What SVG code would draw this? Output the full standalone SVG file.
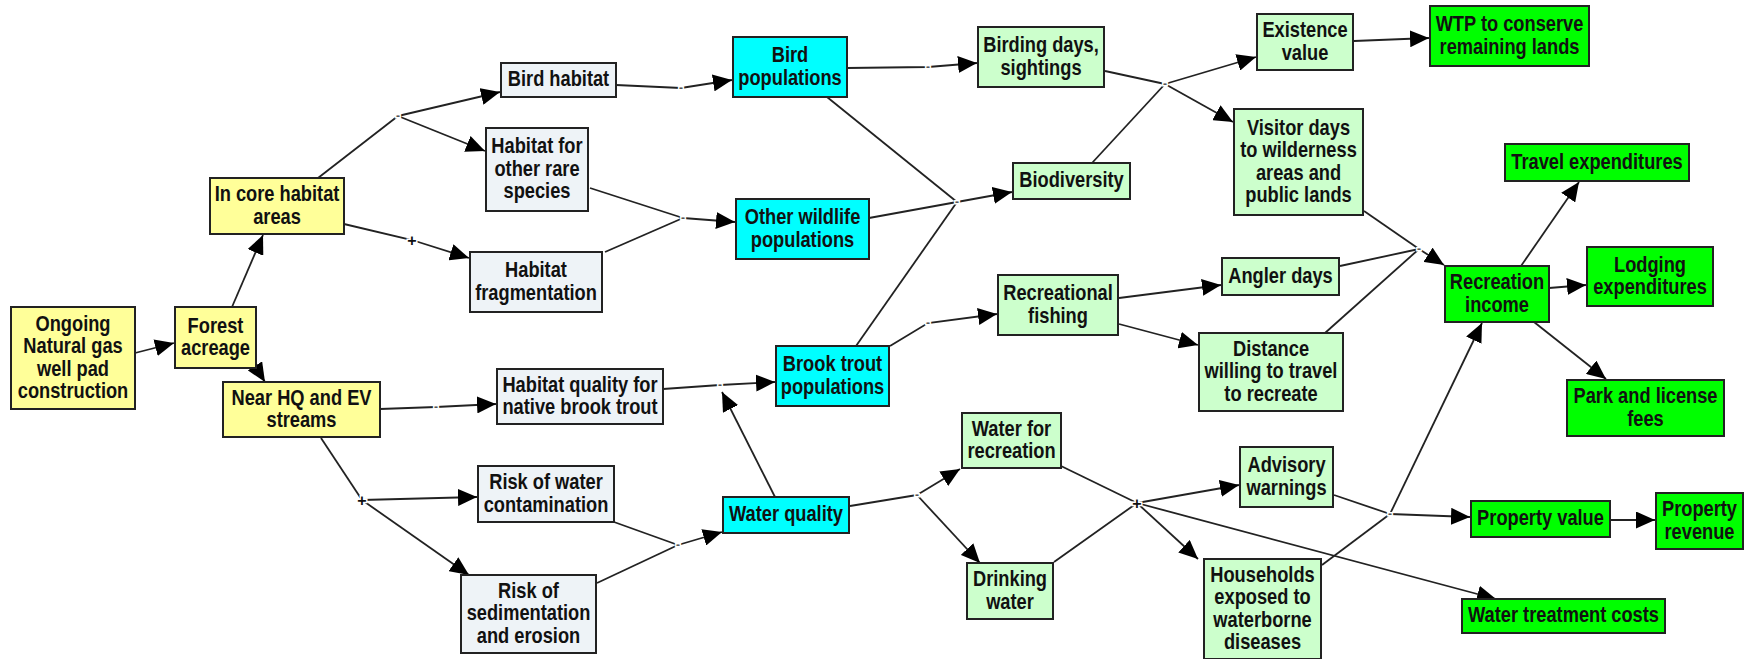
<svg xmlns="http://www.w3.org/2000/svg" width="1747" height="659" viewBox="0 0 1747 659">
<style>
.box{stroke:#222;stroke-width:2}
.y{fill:#FFFF99}.g{fill:#EEF3F7}.c{fill:#00FFFF}.lg{fill:#CCFFCC}.gr{fill:#00FF00}
.t{font-family:"Liberation Sans",Arial,sans-serif;font-weight:bold;font-size:22px;fill:#111;text-anchor:middle}
.e{fill:none;stroke:#222;stroke-width:1.8}
.m{font-family:"Liberation Sans",Arial,sans-serif;font-weight:bold;font-size:12px;fill:#555;text-anchor:middle;stroke:#fff;stroke-width:3;paint-order:stroke}
.p{font-family:"Liberation Sans",Arial,sans-serif;font-weight:bold;font-size:16px;fill:#111;text-anchor:middle;stroke:#fff;stroke-width:3;paint-order:stroke}
</style>
<defs>
<marker id="a" markerUnits="userSpaceOnUse" markerWidth="19" markerHeight="17" refX="19" refY="8.5" orient="auto" viewBox="0 0 19 17">
<path d="M0,0 L19,8.5 L0,17 z" fill="#000"/>
</marker>
</defs>
<rect width="1747" height="659" fill="#fff"/>
<g id="connectors">
<path class="e" d="M135,353 L174,343" marker-end="url(#a)"/>
<path class="e" d="M232,307 L263,235" marker-end="url(#a)"/>
<path class="e" d="M255,366 L265,382" marker-end="url(#a)"/>
<path class="e" d="M318,178 L398,116"/>
<path class="e" d="M398,116 L500,92" marker-end="url(#a)"/>
<path class="e" d="M398,116 L485,151" marker-end="url(#a)"/>
<path class="e" d="M344,224 L412,240 L469,258" marker-end="url(#a)"/>
<path class="e" d="M380,409 L436,407 L496,404" marker-end="url(#a)"/>
<path class="e" d="M321,438 L362,500"/>
<path class="e" d="M362,500 L477,497" marker-end="url(#a)"/>
<path class="e" d="M362,500 L469,575" marker-end="url(#a)"/>
<path class="e" d="M616,85 L681,88 L732,80" marker-end="url(#a)"/>
<path class="e" d="M590,188 L683,218"/>
<path class="e" d="M605,252 L683,218"/>
<path class="e" d="M683,218 L735,222" marker-end="url(#a)"/>
<path class="e" d="M847,68 L928,67 L977,63" marker-end="url(#a)"/>
<path class="e" d="M827,97 L957,202"/>
<path class="e" d="M869,218 L957,202"/>
<path class="e" d="M856,346 L957,202"/>
<path class="e" d="M957,202 L1012,192" marker-end="url(#a)"/>
<path class="e" d="M1105,71 L1165,84"/>
<path class="e" d="M1092,163 L1165,84"/>
<path class="e" d="M1165,84 L1256,57" marker-end="url(#a)"/>
<path class="e" d="M1165,84 L1233,122" marker-end="url(#a)"/>
<path class="e" d="M1354,41 L1429,38" marker-end="url(#a)"/>
<path class="e" d="M1364,211 L1419,249"/>
<path class="e" d="M1340,266 L1419,249"/>
<path class="e" d="M1325,333 L1419,249"/>
<path class="e" d="M1419,249 L1444,265" marker-end="url(#a)"/>
<path class="e" d="M1521,266 L1579,182" marker-end="url(#a)"/>
<path class="e" d="M1549,288 L1586,285" marker-end="url(#a)"/>
<path class="e" d="M1534,322 L1606,379" marker-end="url(#a)"/>
<path class="e" d="M1119,298 L1221,285" marker-end="url(#a)"/>
<path class="e" d="M1119,324 L1198,345" marker-end="url(#a)"/>
<path class="e" d="M890,346 L928,323 L997,314" marker-end="url(#a)"/>
<path class="e" d="M663,389 L720,385 L775,382" marker-end="url(#a)"/>
<path class="e" d="M775,497 L722,392" marker-end="url(#a)"/>
<path class="e" d="M614,522 L678,545"/>
<path class="e" d="M597,583 L678,545"/>
<path class="e" d="M678,545 L722,532" marker-end="url(#a)"/>
<path class="e" d="M850,506 L917,495"/>
<path class="e" d="M917,495 L960,469" marker-end="url(#a)"/>
<path class="e" d="M917,495 L980,563" marker-end="url(#a)"/>
<path class="e" d="M1061,466 L1137,503"/>
<path class="e" d="M1054,562 L1137,503"/>
<path class="e" d="M1137,503 L1239,485" marker-end="url(#a)"/>
<path class="e" d="M1137,503 L1198,559" marker-end="url(#a)"/>
<path class="e" d="M1137,503 L1496,599" marker-end="url(#a)"/>
<path class="e" d="M1334,495 L1390,514"/>
<path class="e" d="M1322,565 L1390,514"/>
<path class="e" d="M1390,514 L1470,517" marker-end="url(#a)"/>
<path class="e" d="M1390,514 L1482,323" marker-end="url(#a)"/>
<path class="e" d="M1610,520 L1655,520" marker-end="url(#a)"/>
<text class="m" x="398" y="120">-</text>
<text class="m" x="681" y="92">-</text>
<text class="m" x="683" y="222">-</text>
<text class="m" x="928" y="71">-</text>
<text class="m" x="957" y="206">-</text>
<text class="m" x="1165" y="88">-</text>
<text class="m" x="1419" y="253">-</text>
<text class="m" x="436" y="411">-</text>
<text class="m" x="720" y="389">-</text>
<text class="m" x="928" y="327">-</text>
<text class="m" x="678" y="549">-</text>
<text class="m" x="917" y="499">-</text>
<text class="m" x="1390" y="518">-</text>
<text class="p" x="412" y="246">+</text>
<text class="p" x="362" y="506">+</text>
<text class="p" x="1137" y="509">+</text>
</g>
<g id="ongoing"><rect class="box y" x="11" y="307" width="124" height="102"/><text class="t" transform="translate(73 0) scale(0.83 1)"><tspan x="0" y="330.75">Ongoing</tspan><tspan x="0" y="353.25">Natural gas</tspan><tspan x="0" y="375.75">well pad</tspan><tspan x="0" y="398.25">construction</tspan></text></g>
<g id="forest"><rect class="box y" x="175" y="307" width="81" height="61"/><text class="t" transform="translate(215.5 0) scale(0.83 1)"><tspan x="0" y="332.75">Forest</tspan><tspan x="0" y="355.25">acreage</tspan></text></g>
<g id="incore"><rect class="box y" x="210" y="178" width="134" height="56"/><text class="t" transform="translate(277 0) scale(0.83 1)"><tspan x="0" y="201.25">In core habitat</tspan><tspan x="0" y="223.75">areas</tspan></text></g>
<g id="nearhq"><rect class="box y" x="223" y="382" width="157" height="55"/><text class="t" transform="translate(301.5 0) scale(0.83 1)"><tspan x="0" y="404.75">Near HQ and EV</tspan><tspan x="0" y="427.25">streams</tspan></text></g>
<g id="birdhab"><rect class="box g" x="501" y="63" width="115" height="34"/><text class="t" transform="translate(558.5 0) scale(0.83 1)"><tspan x="0" y="86.5">Bird habitat</tspan></text></g>
<g id="habother"><rect class="box g" x="486" y="128" width="102" height="83"/><text class="t" transform="translate(537 0) scale(0.83 1)"><tspan x="0" y="153.5">Habitat for</tspan><tspan x="0" y="176">other rare</tspan><tspan x="0" y="198.5">species</tspan></text></g>
<g id="habfrag"><rect class="box g" x="470" y="252" width="132" height="60"/><text class="t" transform="translate(536 0) scale(0.83 1)"><tspan x="0" y="277.25">Habitat</tspan><tspan x="0" y="299.75">fragmentation</tspan></text></g>
<g id="habqual"><rect class="box g" x="497" y="369" width="166" height="55"/><text class="t" transform="translate(580 0) scale(0.83 1)"><tspan x="0" y="391.75">Habitat quality for</tspan><tspan x="0" y="414.25">native brook trout</tspan></text></g>
<g id="riskwater"><rect class="box g" x="478" y="466" width="136" height="56"/><text class="t" transform="translate(546 0) scale(0.83 1)"><tspan x="0" y="489.25">Risk of water</tspan><tspan x="0" y="511.75">contamination</tspan></text></g>
<g id="risksed"><rect class="box g" x="461" y="575" width="135" height="78"/><text class="t" transform="translate(528.5 0) scale(0.83 1)"><tspan x="0" y="598">Risk of</tspan><tspan x="0" y="620.5">sedimentation</tspan><tspan x="0" y="643">and erosion</tspan></text></g>
<g id="birdpop"><rect class="box c" x="733" y="37" width="114" height="60"/><text class="t" transform="translate(790 0) scale(0.83 1)"><tspan x="0" y="62.25">Bird</tspan><tspan x="0" y="84.75">populations</tspan></text></g>
<g id="otherwild"><rect class="box c" x="736" y="199" width="133" height="60"/><text class="t" transform="translate(802.5 0) scale(0.83 1)"><tspan x="0" y="224.25">Other wildlife</tspan><tspan x="0" y="246.75">populations</tspan></text></g>
<g id="brooktrout"><rect class="box c" x="776" y="346" width="113" height="60"/><text class="t" transform="translate(832.5 0) scale(0.83 1)"><tspan x="0" y="371.25">Brook trout</tspan><tspan x="0" y="393.75">populations</tspan></text></g>
<g id="waterqual"><rect class="box c" x="723" y="497" width="126" height="36"/><text class="t" transform="translate(786 0) scale(0.83 1)"><tspan x="0" y="521.5">Water quality</tspan></text></g>
<g id="birding"><rect class="box lg" x="978" y="27" width="126" height="60"/><text class="t" transform="translate(1041 0) scale(0.83 1)"><tspan x="0" y="52.25">Birding days,</tspan><tspan x="0" y="74.75">sightings</tspan></text></g>
<g id="biodiv"><rect class="box lg" x="1013" y="163" width="117" height="36"/><text class="t" transform="translate(1071.5 0) scale(0.83 1)"><tspan x="0" y="187.5">Biodiversity</tspan></text></g>
<g id="recfish"><rect class="box lg" x="998" y="275" width="120" height="60"/><text class="t" transform="translate(1058 0) scale(0.83 1)"><tspan x="0" y="300.25">Recreational</tspan><tspan x="0" y="322.75">fishing</tspan></text></g>
<g id="waterrec"><rect class="box lg" x="962" y="413" width="99" height="55"/><text class="t" transform="translate(1011.5 0) scale(0.83 1)"><tspan x="0" y="435.75">Water for</tspan><tspan x="0" y="458.25">recreation</tspan></text></g>
<g id="drinking"><rect class="box lg" x="967" y="563" width="86" height="56"/><text class="t" transform="translate(1010 0) scale(0.83 1)"><tspan x="0" y="586.25">Drinking</tspan><tspan x="0" y="608.75">water</tspan></text></g>
<g id="existence"><rect class="box lg" x="1257" y="14" width="96" height="56"/><text class="t" transform="translate(1305 0) scale(0.83 1)"><tspan x="0" y="37.25">Existence</tspan><tspan x="0" y="59.75">value</tspan></text></g>
<g id="wtp"><rect class="box gr" x="1430" y="6" width="159" height="60"/><text class="t" transform="translate(1509.5 0) scale(0.83 1)"><tspan x="0" y="31.25">WTP to conserve</tspan><tspan x="0" y="53.75">remaining lands</tspan></text></g>
<g id="visitor"><rect class="box lg" x="1234" y="109" width="129" height="106"/><text class="t" transform="translate(1298.5 0) scale(0.83 1)"><tspan x="0" y="134.75">Visitor days</tspan><tspan x="0" y="157.25">to wilderness</tspan><tspan x="0" y="179.75">areas and</tspan><tspan x="0" y="202.25">public lands</tspan></text></g>
<g id="travel"><rect class="box gr" x="1505" y="144" width="184" height="37"/><text class="t" transform="translate(1597 0) scale(0.83 1)"><tspan x="0" y="169">Travel expenditures</tspan></text></g>
<g id="angler"><rect class="box lg" x="1222" y="258" width="117" height="37"/><text class="t" transform="translate(1280.5 0) scale(0.83 1)"><tspan x="0" y="283">Angler days</tspan></text></g>
<g id="recinc"><rect class="box gr" x="1445" y="266" width="104" height="56"/><text class="t" transform="translate(1497 0) scale(0.83 1)"><tspan x="0" y="289.25">Recreation</tspan><tspan x="0" y="311.75">income</tspan></text></g>
<g id="lodging"><rect class="box gr" x="1587" y="247" width="126" height="59"/><text class="t" transform="translate(1650 0) scale(0.83 1)"><tspan x="0" y="271.75">Lodging</tspan><tspan x="0" y="294.25">expenditures</tspan></text></g>
<g id="distance"><rect class="box lg" x="1199" y="333" width="144" height="78"/><text class="t" transform="translate(1271 0) scale(0.83 1)"><tspan x="0" y="356">Distance</tspan><tspan x="0" y="378.5">willing to travel</tspan><tspan x="0" y="401">to recreate</tspan></text></g>
<g id="park"><rect class="box gr" x="1567" y="380" width="157" height="56"/><text class="t" transform="translate(1645.5 0) scale(0.83 1)"><tspan x="0" y="403.25">Park and license</tspan><tspan x="0" y="425.75">fees</tspan></text></g>
<g id="advisory"><rect class="box lg" x="1240" y="447" width="93" height="60"/><text class="t" transform="translate(1286.5 0) scale(0.83 1)"><tspan x="0" y="472.25">Advisory</tspan><tspan x="0" y="494.75">warnings</tspan></text></g>
<g id="propval"><rect class="box gr" x="1471" y="501" width="139" height="36"/><text class="t" transform="translate(1540.5 0) scale(0.83 1)"><tspan x="0" y="525.5">Property value</tspan></text></g>
<g id="proprev"><rect class="box gr" x="1656" y="493" width="87" height="56"/><text class="t" transform="translate(1699.5 0) scale(0.83 1)"><tspan x="0" y="516.25">Property</tspan><tspan x="0" y="538.75">revenue</tspan></text></g>
<g id="households"><rect class="box lg" x="1204" y="559" width="117" height="100"/><text class="t" transform="translate(1262.5 0) scale(0.83 1)"><tspan x="0" y="581.75">Households</tspan><tspan x="0" y="604.25">exposed to</tspan><tspan x="0" y="626.75">waterborne</tspan><tspan x="0" y="649.25">diseases</tspan></text></g>
<g id="watertreat"><rect class="box gr" x="1462" y="599" width="203" height="34"/><text class="t" transform="translate(1563.5 0) scale(0.83 1)"><tspan x="0" y="622.5">Water treatment costs</tspan></text></g>
</svg>
